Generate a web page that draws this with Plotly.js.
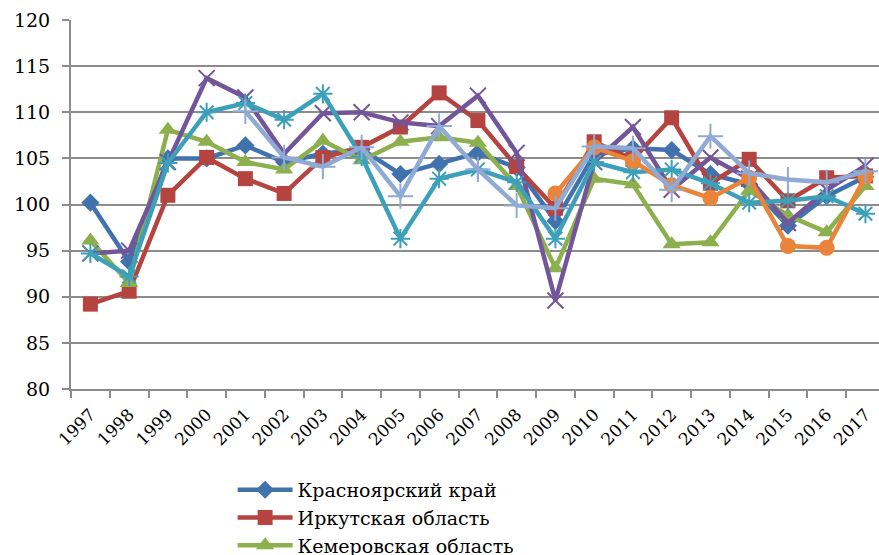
<!DOCTYPE html>
<html>
<head>
<meta charset="utf-8">
<script src="https://cdn.plot.ly/plotly-3.0.1.min.js"></script>
<style>html,body{margin:0;padding:0;background:#fff;overflow:hidden}#chart{width:879px;height:555px}</style>
</head>
<body>
<div id="chart"></div>
<script>
var years = ['1997','1998','1999','2000','2001','2002','2003','2004','2005','2006','2007','2008','2009','2010','2011','2012','2013','2014','2015','2016','2017'];
var yTicks = [80, 85, 90, 95, 100, 105, 110, 115, 120];

var seriesNames = ['Красноярский край', 'Иркутская область', 'Кемеровская область', 'Ряд 4', 'Ряд 5', 'Ряд 6', 'Ряд 7'];

var krasnoyarsk = [100.2, 93.8, 105.0, 105.0, 106.4, 104.6, 105.5, 106.0, 103.3, 104.4, 105.6, 104.0, 98.2, 105.4, 106.1, 105.9, 103.3, 102.2, 97.7, 100.9, 103.0];
var irkutsk     = [89.2, 90.6, 101.0, 105.1, 102.8, 101.2, 105.1, 106.2, 108.4, 112.1, 109.1, 104.1, 99.6, 106.8, 104.9, 109.4, 102.3, 104.9, 100.4, 102.9, 103.1];
var kemerovo    = [96.1, 91.5, 108.1, 106.8, 104.6, 103.8, 106.9, 104.8, 106.8, 107.3, 106.7, 102.0, 93.1, 102.8, 102.2, 95.7, 95.9, 101.5, 98.8, 97.0, 102.0];
var series4     = [94.7, 95.0, 104.6, 113.7, 111.6, 105.5, 109.9, 110.0, 108.9, 108.5, 111.8, 105.6, 89.6, 104.6, 108.4, 101.6, 105.1, 102.8, 98.0, 101.6, 104.2];
var series5     = [94.7, 92.2, 104.5, 110.0, 111.0, 109.2, 112.0, 105.2, 96.3, 102.8, 103.8, 102.4, 96.3, 104.6, 103.5, 103.8, 102.3, 100.2, 100.4, 100.9, 99.0];
var series6     = [null, null, null, null, null, null, null, null, null, null, null, null, 101.2, 106.2, 104.7, 102.1, 100.7, 102.9, 95.5, 95.3, 103.0];
var series7     = [null, null, null, null, 110.1, 105.1, 104.1, 106.2, 100.9, 108.5, 103.8, 99.9, 99.6, 106.3, 106.1, 101.6, 107.4, 103.4, 102.7, 102.4, 103.6];

var allValues = [krasnoyarsk, irkutsk, kemerovo, series4, series5, series6, series7];
var colors = ['#4072AE', '#B5433F', '#8DB04E', '#735699', '#3DA0BA', '#E9843A', '#8FAAD4'];
var symbols = ['diamond', 'square', 'triangle-up', 'x-thin-open', 'asterisk-open', 'circle', 'cross-thin-open'];
var sizes = [14, 15, 16, 16, 16, 16, 18];

var serifFamily = "'DejaVu Serif', serif";

var traces = allValues.map(function (vals, i) {
  var open = symbols[i].indexOf('open') >= 0;
  return {
    type: 'scatter',
    mode: 'lines+markers',
    name: seriesNames[i],
    x: years,
    y: vals,
    showlegend: i < 3,
    line: {color: colors[i], width: 4.5},
    marker: {
      symbol: symbols[i],
      size: sizes[i],
      color: colors[i],
      line: {color: colors[i], width: open ? 2 : 0}
    },
    connectgaps: false
  };
});

var layout = {
  width: 879,
  height: 555,
  margin: {l: 71, r: 0, t: 20, b: 166, autoexpand: false},
  paper_bgcolor: '#fff',
  plot_bgcolor: '#fff',
  font: {family: serifFamily, color: '#000'},
  xaxis: {
    type: 'category',
    range: [-0.5, 20.35],
    tickson: 'boundaries',
    ticks: 'outside',
    ticklen: 7,
    tickwidth: 2,
    tickcolor: '#8c8c8c',
    tickangle: -45,
    ticklabelstandoff: 7,
    tickfont: {family: serifFamily, size: 17, color: '#000'},
    showgrid: false,
    showline: true,
    linecolor: '#8c8c8c',
    linewidth: 2,
    automargin: false,
    fixedrange: true
  },
  yaxis: {
    range: [80, 120],
    tickvals: yTicks,
    ticktext: yTicks.map(String),
    ticks: 'outside',
    ticklen: 7,
    tickwidth: 2,
    tickcolor: '#8c8c8c',
    ticklabelstandoff: 8,
    tickfont: {family: serifFamily, size: 19, color: '#000'},
    showgrid: true,
    gridcolor: '#8c8c8c',
    gridwidth: 2,
    showline: true,
    linecolor: '#8c8c8c',
    linewidth: 2,
    zeroline: false,
    automargin: false,
    fixedrange: true
  },
  legend: {
    orientation: 'v',
    x: 0.2,
    xanchor: 'left',
    y: -0.222,
    yanchor: 'top',
    itemwidth: 55,
    bgcolor: 'rgba(0,0,0,0)',
    font: {family: serifFamily, size: 19, color: '#000'},
    tracegroupgap: 0
  },
  showlegend: true
};

Plotly.newPlot('chart', traces, layout, {displayModeBar: false, staticPlot: true});
</script>
</body>
</html>
